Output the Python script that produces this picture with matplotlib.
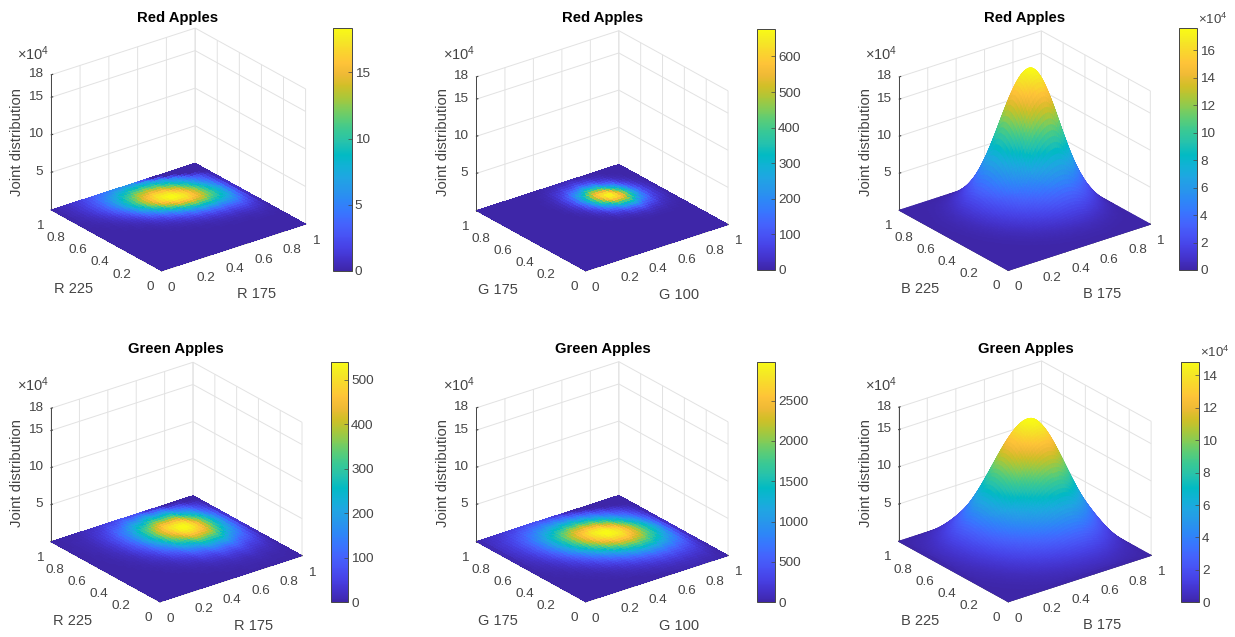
import numpy as np
import matplotlib
matplotlib.use('Agg')
import matplotlib.pyplot as plt
from matplotlib.colors import LinearSegmentedColormap, Normalize
from matplotlib.cm import ScalarMappable
from mpl_toolkits.mplot3d import proj3d

plt.rcParams['font.family'] = ['Liberation Sans', 'DejaVu Sans']
plt.rcParams['mathtext.fontset'] = 'custom'
plt.rcParams['mathtext.rm'] = 'Liberation Sans'
plt.rcParams['mathtext.default'] = 'regular'

W, H = 1235, 637
GREY = '#454545'

# ---- data -----------------------------------------------------------------
# shape of each joint distribution along its two axes (fraction of the peak),
# sampled evenly over 0..1
red_r_x = [0,.016,.022,.030,.041,.055,.072,.094,.120,.152,.190,.235,.285,.343,.406,.475,.547,.620,.693,.765,.830,
           .888,.935,.970,.993,1,.993,.970,.935,.888,.830,.765,.693,.620,.547,.475,.406,.310,.210,.100,0]
red_r_y = [0,0,0,0,0,0,0,0,.001,.002,.003,.006,.010,.017,.028,.044,.068,.099,.145,.201,.274,
           .360,.458,.564,.671,.775,.866,.938,.984,1,.989,.955,.902,.832,.751,.662,.570,.480,.395,.318,0]
red_g = [0,0,0,0,0,0,0,0,0,0,0,0,.001,.003,.006,.013,.024,.044,.076,.124,.192,
         .283,.396,.525,.662,.793,.902,.974,1,.969,.882,.755,.607,.458,.325,.216,.135,.079,.044,.023,0]
red_b = [0,.001,.002,.003,.004,.005,.006,.008,.010,.012,.015,.018,.022,.026,.031,.037,.044,.052,.060,.071,
         .082,.095,.109,.125,.142,.162,.184,.206,.232,.258,.287,.318,.351,.384,.420,.458,.496,.535,.574,.614,
         .654,.693,.733,.770,.805,.839,.871,.899,.925,.947,.966,.981,.991,.998,1,
         .996,.984,.965,.938,.905,.866,.823,.775,.724,.671,.617,.564,.510,.458,.408,.360,.315,.274,
         .225,.190,.155,.120,.085,.050,.020,0]
green_r = [0,.003,.005,.008,.011,.016,.023,.032,.044,.060,.080,.105,.135,.172,.216,.268,.325,.387,.458,.532,.607,
           .682,.755,.823,.882,.932,.969,.992,1,.986,.945,.882,.801,.706,.607,.510,.411,.325,.230,.130,0]
green_g_x = [0,.036,.047,.060,.076,.096,.120,.149,.182,.221,.265,.314,.368,.426,.489,.554,.620,.685,.749,.808,.862,
             .910,.948,.977,.994,1,.992,.969,.932,.882,.823,.755,.682,.607,.532,.458,.387,.290,.200,.100,0]
green_g_y = [0,.011,.016,.023,.032,.044,.060,.080,.105,.135,.172,.216,.268,.325,.387,.458,.532,.607,.682,.755,.823,
             .882,.932,.969,.992,1,.989,.958,.907,.841,.763,.678,.590,.505,.422,.340,.270,.200,.130,.060,0]
green_b = [0,.014,.022,.028,.033,.038,.044,.050,.057,.064,.072,.082,.092,.103,.115,.128,.142,.157,.173,.190,
           .209,.229,.250,.272,.296,.320,.346,.373,.401,.429,.459,.489,.520,.551,.582,.613,.645,.676,.707,.737,
           .766,.795,.822,.848,.873,.895,.916,.935,.952,.967,.979,.988,.995,.999,1,
           .997,.989,.975,.955,.931,.902,.869,.832,.792,.750,.706,.660,.614,.568,.522,.477,.434,.392,.352,.315,
           .275,.230,.175,.115,.055,0]

# how many samples the ridge of the hill moves along y, per x sample
ridge_red_r = [9,8,8,8,7,7,7,6,6,6,5,5,5,4,4,3,3,3,2,2,2,1,1,1,0,0,0,-1,-1,-1,-2,-2,-2,-3,-3,-4,-4,-4,-5,-5,-5]
ridge_red_g = [8,8,7,7,7,6,6,6,6,5,5,5,4,4,4,4,3,3,3,3,2,2,2,1,1,1,1,0,0,0,-1,-1,-1,-1,-2,-2,-2,-3,-3,-3,-3]
ridge_green_r = [6,5,5,5,5,5,4,4,4,4,4,3,3,3,3,3,2,2,2,2,2,1,1,1,1,1,0,0,0,0,0,-1,-1,-1,-1,-1,-2,-2,-2,-2,-2]
ridge_green_g = [8,8,8,7,7,7,6,6,6,5,5,5,4,4,4,3,3,3,2,2,2,1,1,1,0,0,0,-1,-1,-1,-2,-2,-2,-3,-3,-3,-4,-4,-4,-5,-5]

titles = ['Red Apples', 'Red Apples', 'Red Apples', 'Green Apples', 'Green Apples', 'Green Apples']
x_labels = ['R 175', 'G 100', 'B 175', 'R 175', 'G 100', 'B 175']
y_labels = ['R 225', 'G 175', 'B 225', 'R 225', 'G 175', 'B 225']
peaks = [18.4, 678, 17.6e4, 541, 2983, 14.85e4]
x_shapes = [red_r_x, red_g, red_b, green_r, green_g_x, green_b]
y_shapes = [red_r_y, red_g, red_b, green_r, green_g_y, green_b]
ridges = [ridge_red_r, ridge_red_g, None, ridge_green_r, ridge_green_g, None]
cbar_ticks = [[0, 5, 10, 15],
              [0, 100, 200, 300, 400, 500, 600],
              [0, 2e4, 4e4, 6e4, 8e4, 10e4, 12e4, 14e4, 16e4],
              [0, 100, 200, 300, 400, 500],
              [0, 500, 1000, 1500, 2000, 2500],
              [0, 2e4, 4e4, 6e4, 8e4, 10e4, 12e4, 14e4]]
plane_ticks = [0, .2, .4, .6, .8, 1]
plane_tick_labels = ['0', '0.2', '0.4', '0.6', '0.8', '1']
z_ticks = [5e4, 10e4, 15e4, 18e4]
z_tick_labels = ['5', '10', '15', '18']

parula_anchors = [
    (.2422,.1504,.6603),(.2647,.1978,.7952),(.2783,.2559,.8991),(.2810,.3228,.9579),(.2699,.3892,.9906),
    (.2206,.4603,.9973),(.1786,.5289,.9682),(.1540,.5902,.9218),(.1248,.6459,.8883),(.0689,.6948,.8394),
    (.0067,.7312,.7660),(.1408,.7584,.6842),(.2161,.7843,.5923),(.3406,.8008,.4789),(.5044,.7993,.3480),
    (.6720,.7793,.2227),(.8203,.7498,.1535),(.9393,.7288,.2100),(.9970,.7659,.2199),(.9786,.8386,.1766),
    (.9597,.9135,.1423),(.9769,.9839,.0805)]
parula = LinearSegmentedColormap.from_list('parula', parula_anchors, N=256)

# ---- layout in pixels: floor corners (left x, right x, front x, front y) ----
floors = [(50.7, 305.0, 161.7, 270.7), (476.7, 728.3, 585.7, 270.7), (899.0, 1150.0, 1008.3, 270.3),
          (50.7, 301.7, 160.0, 601.7), (476.7, 728.3, 585.7, 601.7), (899.3, 1151.7, 1008.3, 601.7)]
cbars = [(333.3, 352.0, 27.5, 270.7), (757.3, 775.3, 28.7, 270.0), (1179.3, 1197.3, 28.3, 270.0),
         (330.7, 348.3, 361.7, 602.3), (757.3, 775.3, 361.7, 602.3), (1180.7, 1199.3, 361.7, 602.3)]
ELEV, AZIM, Z_RATIO = 25, -127.5, 0.822


def fx(p):
    return p / W


def fy(p):
    return 1 - p / H


def place(ax, left, right, front_x, front_y):
    """Resize the square 3D axes so the floor corners land on the given pixels."""
    s0 = 400.0
    ax.set_position([0, 0, s0 / W, s0 / H])
    M = ax.get_proj()

    def px(x, y, z):
        a, b, _ = proj3d.proj_transform(x, y, z, M)
        return ax.transData.transform((a, b))

    L0, R0, F0 = px(0, 1, 0), px(1, 0, 0), px(0, 0, 0)
    k = (right - left) / (R0[0] - L0[0])
    x0 = front_x - F0[0] * k
    y0 = (H - front_y) - F0[1] * k
    ax.set_position([x0 / W, y0 / H, s0 * k / W, s0 * k / H])


def surface_values(peak, xs, ys, ridge):
    xs, ys = np.asarray(xs), np.asarray(ys)
    if ridge is None:
        return peak * np.outer(ys, xs)
    n = len(ys)
    Z = np.zeros((n, len(xs)))
    for i, s in enumerate(ridge):
        for j in range(n):
            if 0 <= j - s < n:
                Z[j, i] = peak * xs[i] * ys[j - s]
    return Z


fig = plt.figure(figsize=(W / 100, H / 100), dpi=100, facecolor='white')

for i in range(6):
    ax = fig.add_subplot(2, 3, i + 1, projection='3d', computed_zorder=False)
    ax.patch.set_alpha(0)
    ax.set_proj_type('ortho')
    ax.view_init(elev=ELEV, azim=AZIM)
    ax.set_box_aspect((1, 1, Z_RATIO))
    ax.set_xlim(0, 1)
    ax.set_ylim(0, 1)
    ax.set_zlim(0, 18e4)
    place(ax, *floors[i])

    Z = surface_values(peaks[i], x_shapes[i], y_shapes[i], ridges[i])
    n = Z.shape[0]
    X, Y = np.meshgrid(np.linspace(0, 1, n), np.linspace(0, 1, n))
    norm = Normalize(0, peaks[i])
    Zc = Z.copy()
    Zc[:-1, :-1] = (Z[:-1, :-1] + Z[1:, :-1] + Z[:-1, 1:] + Z[1:, 1:]) / 4
    tall = peaks[i] > 1e4
    ax.plot_surface(X, Y, Z, facecolors=parula(norm(Zc)), rcount=n, ccount=n,
                    linewidth=.7 if tall else 0, antialiased=tall, shade=False)

    ax.set_xticks(plane_ticks, plane_tick_labels)
    ax.set_yticks(plane_ticks, plane_tick_labels)
    ax.set_zticks(z_ticks, z_tick_labels)
    ax.tick_params(axis='both', labelsize=9.7, labelcolor=GREY, color=GREY, width=.5)
    ax.tick_params(axis='x', pad=-2)
    ax.tick_params(axis='y', pad=-2)
    ax.tick_params(axis='z', pad=-4.6)
    for t in ax.get_xticklabels():
        t.set_va('top')
        t.set_ha('left')
    for t in ax.get_yticklabels():
        t.set_va('top')
        t.set_ha('right')
    for t in ax.get_zticklabels():
        t.set_va('center')
        t.set_ha('right')
    for a in (ax.xaxis, ax.yaxis, ax.zaxis):
        a.set_pane_color((1, 1, 1, 0))
        a.pane.set_edgecolor('#e2e2e2')
        a.pane.set_linewidth(.7)
        a.line.set_color(GREY)
        a.line.set_linewidth(.7)
        a._axinfo['grid'].update(color='#e2e2e2', linewidth=.7)
        a._axinfo['tick'].update(inward_factor=0.0, outward_factor=0.12)
        a._axinfo['label']['va'] = 'top'
        a.set_rotate_label(False)

    ax.set_xlabel(x_labels[i], fontsize=10.5, color=GREY, rotation=0, labelpad=1)
    ax.set_ylabel(y_labels[i], fontsize=10.5, color=GREY, rotation=0, labelpad=4)

    left, right, fx_px, fy_px = floors[i]
    fig.text(fx(left - 33.5), fy(fy_px - 128.5), 'Joint distribution', fontsize=10.7, color=GREY,
             rotation=90, ha='center', va='center')
    fig.text(fx((left + right) / 2), fy(fy_px - 252.5), titles[i],
             fontsize=10.7, fontweight='bold', ha='center', va='center', color='black')
    fig.text(fx(left - 34), fy(fy_px - 217), r'$\times 10^4$', fontsize=10.5,
             color=GREY, ha='left', va='center')

    c = cbars[i]
    cax = fig.add_axes([fx(c[0]), fy(c[3]), (c[1] - c[0]) / W, (c[3] - c[2]) / H])
    cb = fig.colorbar(ScalarMappable(norm=norm, cmap=parula), cax=cax)
    scaled = peaks[i] > 1e4
    cb.set_ticks(cbar_ticks[i], labels=[('%d' % (v / 1e4 if scaled else v)) for v in cbar_ticks[i]])
    cb.ax.tick_params(direction='in', length=3, width=.5, color=GREY, labelcolor=GREY,
                      labelsize=9.7, pad=2)
    cb.outline.set_edgecolor(GREY)
    cb.outline.set_linewidth(.7)
    if scaled:
        fig.text(fx(c[0] + 19), fy(c[2] - 9), r'$\times 10^4$', fontsize=9.5, color=GREY,
                 ha='left', va='center')

fig.savefig('out.png', dpi=100, facecolor='white')
